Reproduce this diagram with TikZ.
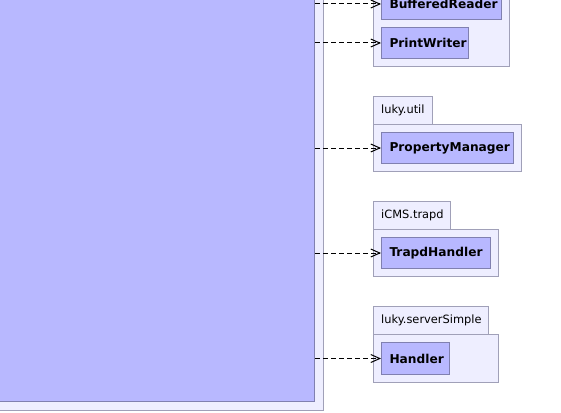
\documentclass[tikz,border=0pt]{standalone}
\usepackage{fontspec}
\setmainfont{DejaVu Sans}
\usetikzlibrary{arrows.meta}
\definecolor{clsfill}{RGB}{184,184,255}
\definecolor{clsdraw}{RGB}{128,128,176}
\definecolor{pkgfill}{RGB}{238,238,255}
\definecolor{pkgdraw}{RGB}{160,160,184}
\tikzset{
  cls/.style={draw=clsdraw, fill=clsfill, line width=1pt, anchor=north west,
    inner xsep=8pt, inner ysep=0pt, align=left,
    font=\fontsize{12.2}{14}\selectfont\bfseries},
  pkg/.style={draw=pkgdraw, fill=pkgfill, line width=1pt},
  pkglabel/.style={anchor=west, inner sep=0pt, font=\fontsize{11.4}{13}\selectfont},
  dep/.style={dashed, dash pattern=on 5pt off 3pt, line width=1pt,
    -{Straight Barb[length=9pt,width=8pt,line width=1pt]}},
}
\begin{document}
\begin{tikzpicture}[x=1pt,y=-1pt]
\useasboundingbox (0,0) rectangle (561,412);
% large component
\fill[pkg] (-10,-10) rectangle (323,410);
\node[draw=clsdraw, fill=clsfill, line width=1pt, minimum width=325pt, minimum height=412pt, inner sep=0pt, anchor=south east] (main) at (315,402) {};
% package java.io (tab cut off)
\filldraw[pkg] (373,-40) rectangle (509,66);
\node[cls, minimum height=31pt, text width=104pt] (br) at (381,-12) {BufferedReader};
\node[cls, minimum height=31pt, text width=71pt] (pw) at (381,27) {PrintWriter};
% package luky.util
\filldraw[pkg] (373,96) rectangle (432,124);
\node[pkglabel] (lu) at (381,110) {luky.util};
\filldraw[pkg] (373,124) rectangle (521,171);
\node[cls, minimum height=31pt, text width=116pt] (pm) at (381,132) {PropertyManager};
% package iCMS.trapd
\filldraw[pkg] (373,201) rectangle (450,229);
\node[pkglabel] (it) at (381,215) {iCMS.trapd};
\filldraw[pkg] (373,229) rectangle (498,276);
\node[cls, minimum height=31pt, text width=93pt] (th) at (381,237) {TrapdHandler};
% package luky.serverSimple
\filldraw[pkg] (373,306) rectangle (488,334);
\node[pkglabel] (ls) at (381,320) {luky.serverSimple};
\filldraw[pkg] (373,334) rectangle (498,382);
\node[cls, minimum height=32pt, text width=52pt] (ha) at (381,342) {Handler};
% dependencies
\draw[dep] (main.east |- br.west) -- (br.west);
\draw[dep] (main.east |- pw.west) -- (pw.west);
\draw[dep] (main.east |- pm.west) -- (pm.west);
\draw[dep] (main.east |- th.west) -- (th.west);
\draw[dep] (main.east |- ha.west) -- (ha.west);
\end{tikzpicture}
\end{document}
